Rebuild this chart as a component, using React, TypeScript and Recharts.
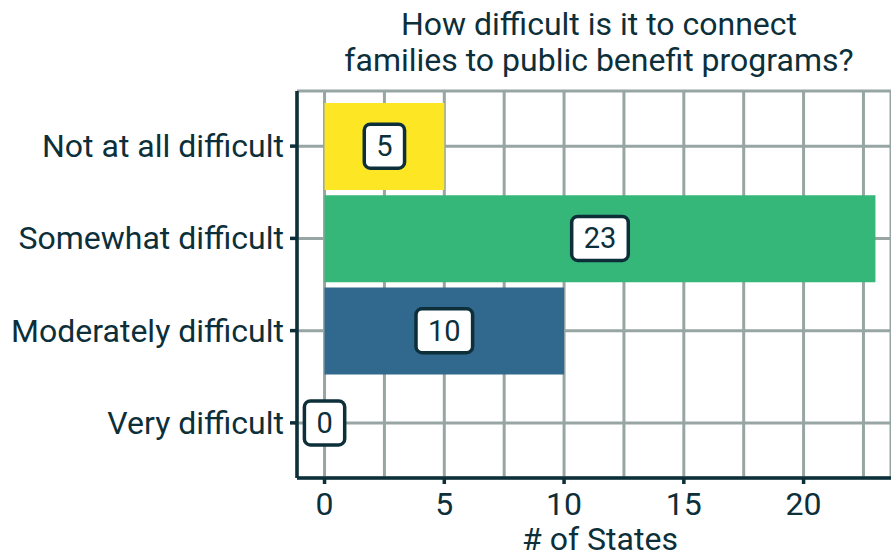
import React from "react";
import {
  BarChart,
  Bar,
  XAxis,
  YAxis,
  CartesianGrid,
  Cell,
  ReferenceDot,
  Customized,
} from "recharts";

const categories = [
  "Not at all difficult",
  "Somewhat difficult",
  "Moderately difficult",
  "Very difficult",
];
const stateCounts = [5, 23, 10, 0];
const barColors = ["#fde725", "#35b779", "#31688e", "#440154"];
const majorTicks = [0, 5, 10, 15, 20];
const gridTicks = [0, 2.5, 5, 7.5, 10, 12.5, 15, 17.5, 20, 22.5];
const titleLines = [
  "How difficult is it to connect",
  "families to public benefit programs?",
];
const xAxisTitle = "# of States";

const data = categories.map((name, i) => ({ name, value: stateCounts[i] }));

const INK = "#0c2f3a";
const GRID = "#97a5a3";
const FONT = "Roboto, 'Noto Sans', sans-serif";
const FS = 32;

const XTick = (props: any) => {
  const { x, y, payload } = props;
  const v = payload.value;
  if (!majorTicks.includes(v)) return null;
  return (
    <g>
      <line x1={x} x2={x} y1={y} y2={y + 6} stroke={INK} strokeWidth={3.5} />
      <text
        x={x}
        y={y + 37}
        textAnchor="middle"
        fontFamily={FONT}
        fontSize={FS}
        fill={INK}
      >
        {v}
      </text>
    </g>
  );
};

const YTick = (props: any) => {
  const { x, y, payload } = props;
  return (
    <g>
      <line x1={x - 7} x2={x} y1={y} y2={y} stroke={INK} strokeWidth={3.5} />
      <text
        x={x - 13}
        y={y + 11}
        textAnchor="end"
        fontFamily={FONT}
        fontSize={FS}
        fill={INK}
      >
        {payload.value}
      </text>
    </g>
  );
};

const makeLabelShape = (value: number) => (props: any) => {
  const { cx, cy } = props;
  const txt = String(value);
  const tw = txt.length * 0.562 * 29;
  const bw = tw + 24;
  const bh = 44;
  return (
    <g>
      <rect
        x={cx - bw / 2}
        y={cy - bh / 2}
        width={bw}
        height={bh}
        rx={6}
        ry={6}
        fill="#ffffff"
        stroke={INK}
        strokeWidth={3.5}
      />
      <text
        x={cx}
        y={cy + 10}
        textAnchor="middle"
        fontFamily={FONT}
        fontSize={29}
        fill={INK}
      >
        {txt}
      </text>
    </g>
  );
};

const Titles = () => (
  <g>
    <text x={599} y={35} textAnchor="middle" fontFamily={FONT} fontSize={FS} fill={INK}>
      {titleLines[0]}
    </text>
    <text x={599} y={71} textAnchor="middle" fontFamily={FONT} fontSize={FS} fill={INK}>
      {titleLines[1]}
    </text>
    <text x={600} y={550} textAnchor="middle" fontFamily={FONT} fontSize={FS} fill={INK}>
      {xAxisTitle}
    </text>
  </g>
);

export default function App() {
  return (
    <div style={{ position: "absolute", left: 0, top: 0, width: 891, height: 555, background: "#fff" }}>
      <BarChart
        width={891}
        height={555}
        data={data}
        layout="vertical"
        margin={{ top: 91, right: 0, bottom: 0, left: 0 }}
      >
        <CartesianGrid stroke={GRID} strokeWidth={3} />
        <XAxis
          type="number"
          domain={[-1.15, 23.65]}
          ticks={gridTicks}
          interval={0}
          height={77}
          tickSize={0}
          tickMargin={0}
          tickLine={false}
          axisLine={{ stroke: INK, strokeWidth: 3.5 }}
          tick={<XTick />}
        />
        <YAxis
          type="category"
          dataKey="name"
          width={297}
          interval={0}
          tickSize={0}
          tickMargin={0}
          tickLine={false}
          padding={{ top: 9, bottom: 9 }}
          axisLine={{ stroke: INK, strokeWidth: 3.5 }}
          tick={<YTick />}
        />
        <Bar dataKey="value" barSize={87} isAnimationActive={false}>
          {data.map((d, i) => (
            <Cell key={d.name} fill={barColors[i]} />
          ))}
        </Bar>
        {data.map((d) => (
          <ReferenceDot
            key={"lbl-" + d.name}
            x={d.value / 2}
            y={d.name}
            ifOverflow="visible"
            shape={makeLabelShape(d.value)}
          />
        ))}
        <Customized component={<Titles />} />
      </BarChart>
    </div>
  );
}
